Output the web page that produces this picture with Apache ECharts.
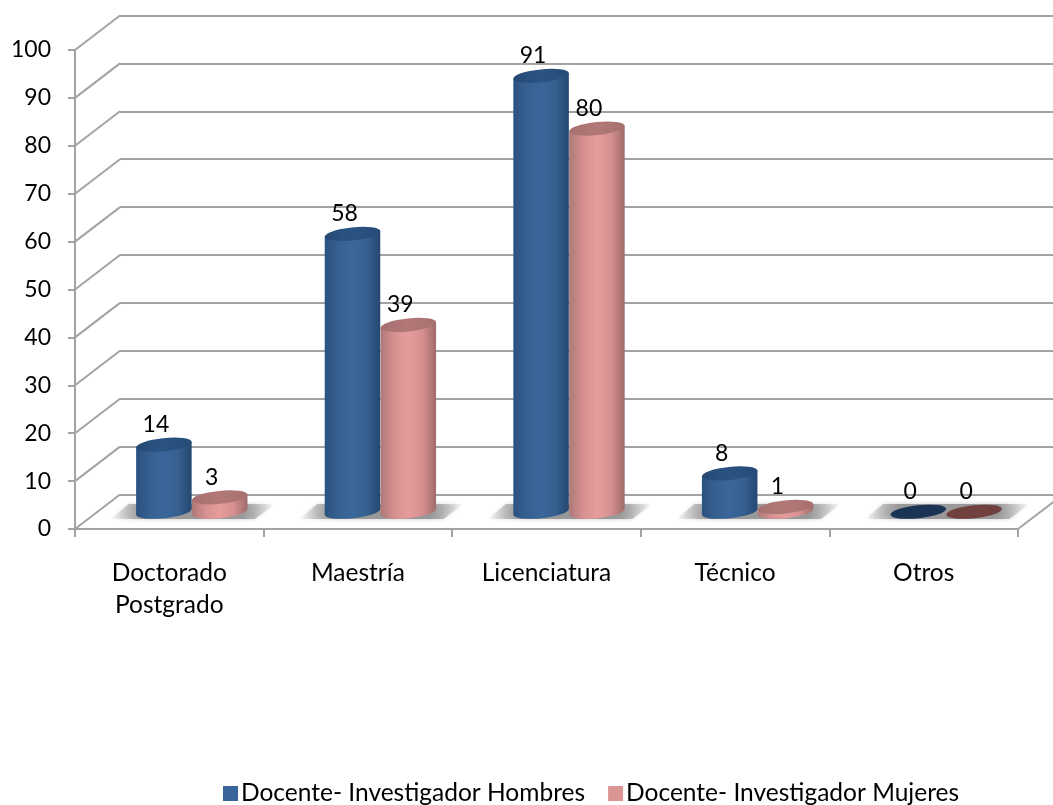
<!DOCTYPE html>
<html>
<head>
<meta charset="utf-8">
<style>html,body{margin:0;padding:0;background:#fff}#c{width:1053px;height:805px}</style>
<script src="https://cdn.jsdelivr.net/npm/echarts@6/dist/echarts.min.js"></script>
</head>
<body>
<div id="c"></div>
<script>
const categories = ['Doctorado\nPostgrado', 'Maestría', 'Licenciatura', 'Técnico', 'Otros'];
const hombres = [14, 58, 91, 8, 0];
const mujeres = [3, 39, 80, 1, 0];
const yTicks = [0, 10, 20, 30, 40, 50, 60, 70, 80, 90, 100];
const seriesNames = ['Docente- Investigador Hombres', 'Docente- Investigador Mujeres'];

const FONT = 'Lato';
const GRID = '#a3a3a3';
const DX = 45, DY = -34.5;          // depth of the 3D floor
const RX_RATIO = 0.148, RY = 6.5, ROT = -6;

function grad(a, b, c, d) {
  return {type:'linear',x:0,y:0,x2:1,y2:0,colorStops:[
    {offset:0,color:a},{offset:0.25,color:b},{offset:0.5,color:c},{offset:0.75,color:b},{offset:1,color:d}]};
}
const looks = [
  {body:grad('#2a5281','#366090','#3b669a','#244870'), top:grad('#25486f','#27507d','#2a5382','#264b75'), zero:'#1b3455'},
  {body:grad('#ad7878','#d69090','#e79c9c','#9e6a6a'), top:grad('#a66f6f','#ad7474','#b27878','#a86f6f'), zero:'#70413f'}
];

function cylinderItem(side) {
  return function (params, api) {
    const c = api.value(0), v = api.value(1);
    const band = api.size([1, 0])[0];
    const rx = band * RX_RATIO;
    const p = api.coord([c, v]), p0 = api.coord([c, 0]);
    const cx = p[0] + DX / 2 + side * rx, topY = p[1] + DY / 2, baseY = p0[1] + DY / 2;
    const t = ROT * Math.PI / 180;
    const ex = rx * Math.cos(t), ey = rx * Math.sin(t);
    const look = looks[side > 0 ? 1 : 0];
    const arc = (x, y, sweep) => `A ${rx} ${RY} ${ROT} 0 ${sweep} ${x} ${y}`;
    const top = `M ${cx-ex} ${topY-ey} ${arc(cx+ex, topY+ey, 1)} ${arc(cx-ex, topY-ey, 1)} Z`;
    const body = `M ${cx-ex} ${topY-ey} L ${cx-ex} ${baseY-ey} ${arc(cx+ex, baseY+ey, 0)} L ${cx+ex} ${topY+ey} Z`;
    const children = [];
    if (v > 0) children.push({type:'path', shape:{pathData:body}, style:{fill:look.body}});
    children.push({type:'path', shape:{pathData:top}, style:{fill: v > 0 ? look.top : look.zero}});
    children.push({type:'text', style:{text:String(v), x:cx-8, y:topY-20, textAlign:'center', textVerticalAlign:'middle',
      font:'23px '+FONT, fill:'#000'}});
    return {type:'group', children};
  };
}

function shadowItem(params, api) {
  const c = api.value(0);
  const band = api.size([1, 0])[0];
  const p0 = api.coord([c, 0]);
  const cx = p0[0] + DX / 2, yb = p0[1] - 10, yt = p0[1] - 25;
  const w = band * 0.42;
  return {type:'polygon', shape:{points:[[cx-w-2,yb],[cx-w+16,yt],[cx+w+4,yt],[cx+w-16,yb]]},
    style:{shadowBlur:4, shadowColor:'rgba(170,170,170,0.7)',
      fill:{type:'linear',x:0,y:0,x2:1,y2:0,colorStops:[
      {offset:0,color:'rgba(150,150,150,0)'},{offset:0.2,color:'rgba(150,150,150,0.95)'},
      {offset:0.8,color:'rgba(150,150,150,0.95)'},{offset:1,color:'rgba(150,150,150,0)'}]}}};
}

function diagonalItem(params, api) {
  const v = api.value(0);
  const left = params.coordSys.x;
  const y = api.coord([0, v])[1];
  return {type:'line', shape:{x1:left, y1:y, x2:left+DX, y2:y+DY}, style:{stroke:GRID, lineWidth:2}};
}
function rightDiagonalItem(params, api) {
  const cs = params.coordSys;
  const y = api.coord([0, api.value(0)])[1];
  const x = cs.x + cs.width;
  return {type:'line', shape:{x1:x, y1:y, x2:x+DX, y2:y+DY}, style:{stroke:GRID, lineWidth:2}};
}

const chart = echarts.init(document.getElementById('c'), null, {renderer:'canvas'});
chart.setOption({
  backgroundColor:'#fff',
  animation:false,
  textStyle:{fontFamily:FONT},
  grid:[
    {left:75, top:50, width:943, height:479},
    {left:75+DX, top:50+DY, width:943, height:479}
  ],
  xAxis:[
    {type:'category', gridIndex:0, data:categories, boundaryGap:true,
     axisLine:{lineStyle:{color:GRID,width:2}},
     axisTick:{show:true,alignWithLabel:false,length:8,lineStyle:{color:GRID,width:2}},
     axisLabel:{color:'#000',fontSize:24.5,fontFamily:FONT,margin:28,lineHeight:32,interval:0}},
    {type:'category', gridIndex:1, data:categories, show:false}
  ],
  yAxis:[
    {type:'value', gridIndex:0, min:0, max:100, interval:10,
     axisLine:{show:true,lineStyle:{color:GRID,width:2}},
     axisTick:{show:true,length:7,lineStyle:{color:GRID,width:2}},
     splitLine:{show:false},
     axisLabel:{color:'#000',fontSize:23,fontFamily:FONT,margin:24}},
    {type:'value', gridIndex:1, min:0, max:100, interval:10,
     axisLine:{show:false},axisTick:{show:false},axisLabel:{show:false},
     splitLine:{show:true,lineStyle:{color:GRID,width:2}}}
  ],
  legend:{
    data:seriesNames, left:218, top:776, itemWidth:15, itemHeight:15, itemGap:23,
    icon:'rect',
    textStyle:{color:'#000',fontSize:24.5,fontFamily:FONT,padding:[0,0,0,-2]}
  },
  series:[
    {type:'custom', name:'gridDepth', coordinateSystem:'cartesian2d', xAxisIndex:0, yAxisIndex:0, silent:true, z:1,
     clip:false, renderItem:diagonalItem, data:yTicks.map(v=>[v]), encode:{y:0}},
    {type:'custom', name:'floorRight', coordinateSystem:'cartesian2d', xAxisIndex:0, yAxisIndex:0, silent:true, z:1,
     clip:false, renderItem:rightDiagonalItem, data:[[yTicks[0]]], encode:{y:0}},
    {type:'custom', name:'floorShadow', coordinateSystem:'cartesian2d', xAxisIndex:0, yAxisIndex:0, silent:true, z:2,
     clip:false, renderItem:shadowItem, data:categories.map((c,i)=>[i,0])},
    {type:'custom', name:seriesNames[0], coordinateSystem:'cartesian2d', xAxisIndex:0, yAxisIndex:0, z:3,
     clip:false, itemStyle:{color:'#3a6598'}, renderItem:cylinderItem(-1), data:hombres.map((v,i)=>[i,v]), encode:{x:0,y:1}},
    {type:'custom', name:seriesNames[1], coordinateSystem:'cartesian2d', xAxisIndex:0, yAxisIndex:0, z:4,
     clip:false, itemStyle:{color:'#dc9595'}, renderItem:cylinderItem(1), data:mujeres.map((v,i)=>[i,v]), encode:{x:0,y:1}}
  ]
});
</script>
</body>
</html>
